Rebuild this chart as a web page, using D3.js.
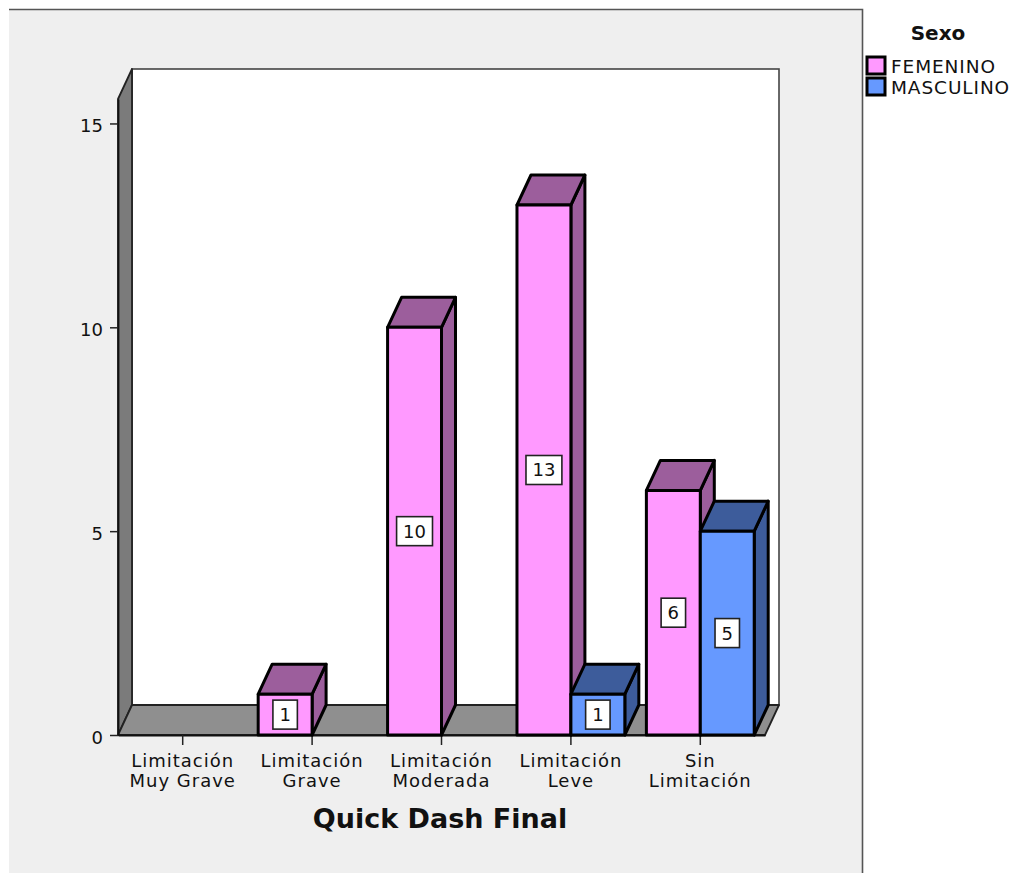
<!DOCTYPE html>
<html>
<head>
<meta charset="utf-8">
<script src="https://cdn.jsdelivr.net/npm/d3@7"></script>
<style>
  html, body { margin: 0; padding: 0; background: #ffffff; }
  svg { display: block; font-family: "DejaVu Sans", Verdana, sans-serif; }
</style>
</head>
<body>
<svg id="chart" width="1015" height="873"></svg>
<script>
// Quick Dash Final by sex: counts per limitation level
const categories = ["Limitación Muy Grave", "Limitación Grave", "Limitación Moderada", "Limitación Leve", "Sin Limitación"];
const sexes = ["FEMENINO", "MASCULINO"];
const femenino = [0, 1, 10, 13, 6];
const masculino = [0, 0, 0, 1, 5];
const yTicks = [0, 5, 10, 15];
const xTitle = "Quick Dash Final";
const legendTitle = "Sexo";

const frontColor = { FEMENINO: "#ff99ff", MASCULINO: "#6699ff" };
const shadeColor = { FEMENINO: "#9c5e9c", MASCULINO: "#3d5c9b" };

const svg = d3.select("#chart");

// outer panel
svg.append("rect").attr("x", 9).attr("y", 9).attr("width", 854).attr("height", 870)
  .attr("fill", "#efefef");
svg.append("path").attr("d", "M9,9.5 H862.5 V873").attr("fill", "none")
  .attr("stroke", "#555").attr("stroke-width", 1.6);

// plot geometry
const left = 118, right = 765, base = 735;
const dx = 14, dy = -30;

const x0 = d3.scaleBand().domain(categories).range([left, right]).padding(0);
const x1 = d3.scaleBand().domain(sexes).range([0, x0.bandwidth()]).paddingInner(0).paddingOuter(0.2);
const y = d3.scaleLinear().domain([0, 15.6]).range([base, 99]);

const yTop = y.range()[1];

// back wall
svg.append("rect")
  .attr("x", left + dx).attr("y", yTop + dy)
  .attr("width", right - left).attr("height", base - yTop)
  .attr("fill", "#ffffff").attr("stroke", "#444").attr("stroke-width", 1.6);

// left wall
svg.append("path")
  .attr("d", `M${left},${yTop} L${left + dx},${yTop + dy} L${left + dx},${base + dy} L${left},${base} Z`)
  .attr("fill", "#7b7b7b").attr("stroke", "#222").attr("stroke-width", 1.8)
  .attr("stroke-linejoin", "round");

// floor
svg.append("path")
  .attr("d", `M${left},${base} L${left + dx},${base + dy} L${right + dx},${base + dy} L${right},${base} Z`)
  .attr("fill", "#8f8f8f").attr("stroke", "#222").attr("stroke-width", 1.8)
  .attr("stroke-linejoin", "round");

// y axis
const yAxis = d3.axisLeft(y).tickValues(yTicks).tickSize(8).tickSizeOuter(0)
  .tickPadding(7).tickFormat(d3.format("d"));
const gy = svg.append("g").attr("transform", `translate(${left},0)`).call(yAxis);
gy.select(".domain").attr("stroke", "#111").attr("stroke-width", 1.8);
gy.selectAll(".tick line").attr("stroke", "#222").attr("stroke-width", 1.5);
gy.selectAll(".tick text").attr("font-size", 18).attr("fill", "#111")
  .attr("font-family", "DejaVu Sans").attr("dy", "0.45em");

// x axis
const xAxis = d3.axisBottom(x0).tickSize(10).tickSizeOuter(0).tickFormat("");
const gx = svg.append("g").attr("transform", `translate(0,${base})`).call(xAxis);
gx.select(".domain").attr("stroke", "#111").attr("stroke-width", 1.8);
gx.selectAll(".tick line").attr("stroke", "#222").attr("stroke-width", 1.5);

// two-line category labels
const catLabels = svg.append("g").attr("font-size", 18).attr("fill", "#111")
  .attr("letter-spacing", "1px").attr("text-anchor", "middle");
categories.forEach(c => {
  const i = c.indexOf(" ");
  const lines = [c.slice(0, i), c.slice(i + 1)];
  const t = catLabels.append("text").attr("x", x0(c) + x0.bandwidth() / 2);
  lines.forEach((ln, k) => {
    t.append("tspan").attr("x", x0(c) + x0.bandwidth() / 2).attr("y", 767 + k * 20).text(ln);
  });
});

// axis title
svg.append("text").attr("x", 440).attr("y", 828).attr("text-anchor", "middle")
  .attr("font-size", 27).attr("font-weight", "bold").attr("fill", "#111").text(xTitle);

// 3D bars
const bars = [];
categories.forEach((c, i) => {
  [["FEMENINO", femenino[i]], ["MASCULINO", masculino[i]]].forEach(([s, v]) => {
    if (v > 0) bars.push({ cat: c, sex: s, value: v });
  });
});

const gb = svg.append("g");
bars.forEach(b => {
  const xl = x0(b.cat) + x1(b.sex);
  const w = x1.bandwidth();
  const yt = y(b.value);
  const g = gb.append("g").attr("stroke", "#000").attr("stroke-width", 3).attr("stroke-linejoin", "round");
  // side face
  g.append("path")
    .attr("d", `M${xl + w},${yt} L${xl + w + dx},${yt + dy} L${xl + w + dx},${base + dy} L${xl + w},${base} Z`)
    .attr("fill", shadeColor[b.sex]);
  // top face
  g.append("path")
    .attr("d", `M${xl},${yt} L${xl + dx},${yt + dy} L${xl + w + dx},${yt + dy} L${xl + w},${yt} Z`)
    .attr("fill", shadeColor[b.sex]);
  // front face
  g.append("rect").attr("x", xl).attr("y", yt).attr("width", w).attr("height", base - yt)
    .attr("fill", frontColor[b.sex]);

  // value label
  const cx = xl + w / 2, cy = (yt + base) / 2;
  const lbl = gb.append("g");
  const txt = lbl.append("text").attr("x", cx).attr("y", cy).attr("dy", "0.36em")
    .attr("text-anchor", "middle").attr("font-size", 18).attr("fill", "#111").text(b.value);
  const tw = txt.node().getComputedTextLength();
  lbl.insert("rect", "text")
    .attr("x", cx - tw / 2 - 6.5).attr("y", cy - 14.5).attr("width", tw + 13).attr("height", 29)
    .attr("fill", "#fff").attr("stroke", "#222").attr("stroke-width", 1.6);
});

// legend
svg.append("text").attr("x", 938).attr("y", 40).attr("text-anchor", "middle")
  .attr("font-size", 20).attr("font-weight", "bold").attr("fill", "#111").text(legendTitle);
const lg = svg.append("g");
sexes.forEach((s, i) => {
  const yy = 57 + i * 21;
  lg.append("rect").attr("x", 867).attr("y", yy).attr("width", 18).attr("height", 17)
    .attr("fill", frontColor[s]).attr("stroke", "#000").attr("stroke-width", 3);
  lg.append("text").attr("x", 891).attr("y", yy + 16).attr("font-size", 18.5)
    .attr("letter-spacing", "0.9px").attr("fill", "#111").text(s);
});
</script>
</body>
</html>
